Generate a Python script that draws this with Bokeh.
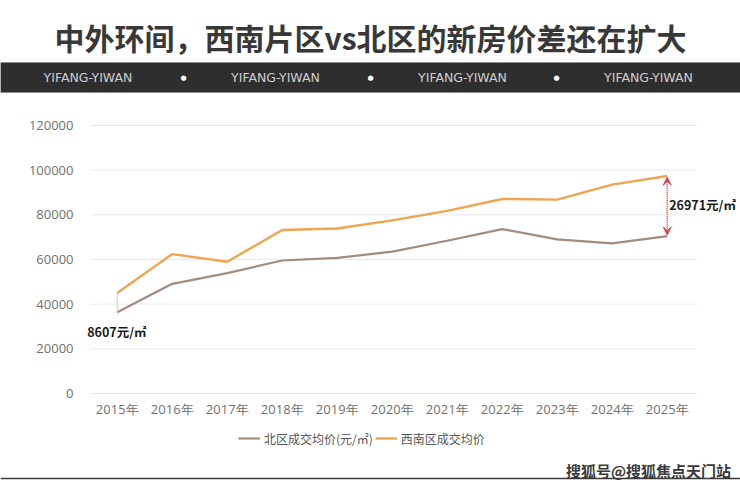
from bokeh.plotting import figure
from bokeh.models import (Range1d, FixedTicker, NumeralTickFormatter, Legend, LegendItem,
                          Label, Arrow, VeeHead, BoxAnnotation)
from bokeh.embed import file_html
from bokeh.resources import INLINE

# ---------------- data ----------------
years = [2015, 2016, 2017, 2018, 2019, 2020, 2021, 2022, 2023, 2024, 2025]
year_labels = ["2015年", "2016年", "2017年", "2018年", "2019年", "2020年",
               "2021年", "2022年", "2023年", "2024年", "2025年"]
north = [36393, 49100, 53900, 59550, 60700, 63500, 68400, 73600, 69000, 67200, 70429]
southwest = [45000, 62400, 59000, 73200, 73900, 77500, 81800, 87100, 86800, 93500, 97400]
y_ticks = [0, 20000, 40000, 60000, 80000, 100000, 120000]
series_names = ["北区成交均价(元/㎡)", "西南区成交均价"]
title_text = "中外环间，西南片区vs北区的新房价差还在扩大"
band_text = "YIFANG-YIWAN"
footer_text = "搜狐号@搜狐焦点天门站"

W, H = 740, 489
CJK = "Noto Sans CJK SC"
C_NORTH = "#a38c7d"
C_SW = "#efa550"

# ---- layout anchors (page pixels) ----
PX_FIRST, PX_LAST = 116.7, 666.7      # first / last category centre
PY_ZERO, PY_TOP = 393.0, 125.0        # value axis 0 and 120000
GRID_L, GRID_R = 90.0, 696.0          # horizontal extent of gridlines

ppy = (PX_LAST - PX_FIRST) / (years[-1] - years[0])          # px per year
vpp = (y_ticks[-1] - y_ticks[0]) / (PY_ZERO - PY_TOP)        # value per px
x_start = years[0] - PX_FIRST / ppy
x_end = years[-1] + (W - PX_LAST) / ppy
y_start = y_ticks[0] - (H - PY_ZERO) * vpp
y_end = y_ticks[-1] + PY_TOP * vpp
grid_x0 = years[0] - (PX_FIRST - GRID_L) / ppy
grid_x1 = years[-1] + (GRID_R - PX_LAST) / ppy

p = figure(width=W, height=H, x_range=Range1d(x_start, x_end), y_range=Range1d(y_start, y_end),
           output_backend="svg", toolbar_location=None, min_border=0)
p.outline_line_color = None
p.grid.visible = False

# horizontal gridlines limited to the plotting band
p.segment(x0=[grid_x0] * len(y_ticks), x1=[grid_x1] * len(y_ticks), y0=y_ticks, y1=y_ticks,
          line_color="#e9e9e9", line_width=1)

p.yaxis.fixed_location = grid_x0
p.xaxis.fixed_location = y_ticks[0]
p.yaxis.ticker = FixedTicker(ticks=y_ticks)
p.yaxis.formatter = NumeralTickFormatter(format="0")
p.xaxis.ticker = FixedTicker(ticks=years)
p.xaxis.major_label_overrides = {y: lab for y, lab in zip(years, year_labels)}
for ax in (p.xaxis, p.yaxis):
    ax.axis_line_color = None
    ax.major_tick_line_color = None
    ax.minor_tick_line_color = None
    ax.major_label_text_font = "Open Sans"
    ax.major_label_text_font_size = "13px"
    ax.major_label_text_color = "#707070"
p.yaxis.major_label_standoff = 11
p.xaxis.major_label_standoff = 0

r_n = p.line(years, north, line_color=C_NORTH, line_width=2.2)
r_s = p.line(years, southwest, line_color=C_SW, line_width=2.4)

# gap markers
p.segment(x0=[years[0]], x1=[years[0]], y0=[north[0]], y1=[southwest[0]],
          line_color="#cfc4d8", line_width=1)
p.add_layout(Arrow(x_start=years[-1], y_start=north[-1] + 600, x_end=years[-1], y_end=southwest[-1] - 600,
                   line_color="#d2434f", line_width=1.5, line_dash="1 1",
                   start=VeeHead(size=8, fill_color="#d2434f", line_color="#d2434f"),
                   end=VeeHead(size=8, fill_color="#d2434f", line_color="#d2434f")))

gap0 = southwest[0] - north[0]
gap1 = southwest[-1] - north[-1]
p.add_layout(Label(x=years[0], y=north[0], x_offset=-30, y_offset=-19,
                   text=f"{gap0}元/㎡", text_font=CJK, text_font_style="bold",
                   text_font_size="12.5px", text_color="#1a1a1a", text_baseline="middle"))
p.add_layout(Label(x=years[-1], y=(north[-1] + southwest[-1]) / 2, x_offset=2, y_offset=2,
                   text=f"{gap1}元/㎡", text_font=CJK, text_font_style="bold",
                   text_font_size="12.5px", text_color="#1a1a1a", text_baseline="middle"))

legend = Legend(items=[LegendItem(label=series_names[0], renderers=[r_n]),
                       LegendItem(label=series_names[1], renderers=[r_s])],
                orientation="horizontal", location=(238, H - 448),
                label_text_font=CJK, label_text_font_size="12px", label_text_color="#555555",
                glyph_width=22, label_standoff=4, spacing=2, padding=2, margin=0,
                border_line_color=None, background_fill_alpha=0)
p.add_layout(legend)


# ---------------- header / footer decorations (screen px) ----------------
def sy(py):
    return H - py


p.add_layout(Label(x=370, y=sy(36), x_units="screen", y_units="screen", text=title_text,
                   text_font=CJK, text_font_style="bold", text_font_size="30px",
                   text_color="#383838", text_align="center", text_baseline="middle"))
p.add_layout(BoxAnnotation(left=0, right=W, top=sy(62), bottom=sy(92),
                           left_units="screen", right_units="screen", top_units="screen",
                           bottom_units="screen", fill_color="#2e2e2e", fill_alpha=1,
                           line_color="#8a8a8a", line_alpha=0.6, line_width=1))
for cx in [87.5, 275, 462, 648]:
    p.add_layout(Label(x=cx, y=sy(77), x_units="screen", y_units="screen", text=band_text,
                       text_font="DejaVu Sans", text_font_size="12.5px", text_color="#cfcfcf",
                       text_align="center", text_baseline="middle"))
for cx in [183, 370, 556]:
    p.add_layout(Label(x=cx, y=sy(77), x_units="screen", y_units="screen", text="●",
                       text_font="DejaVu Sans", text_font_size="7px", text_color="#ffffff",
                       text_align="center", text_baseline="middle"))
p.add_layout(BoxAnnotation(left=0, right=W, top=sy(477.3), bottom=sy(478.8),
                           left_units="screen", right_units="screen", top_units="screen",
                           bottom_units="screen", fill_color="#3a3a3a", fill_alpha=1,
                           line_color=None))
p.add_layout(Label(x=648, y=sy(470), x_units="screen", y_units="screen", text=footer_text,
                   text_font=CJK, text_font_style="bold", text_font_size="15px",
                   text_color="#3a3a3a", text_align="center", text_baseline="middle"))

open("out.html", "w").write(file_html(p, INLINE))
